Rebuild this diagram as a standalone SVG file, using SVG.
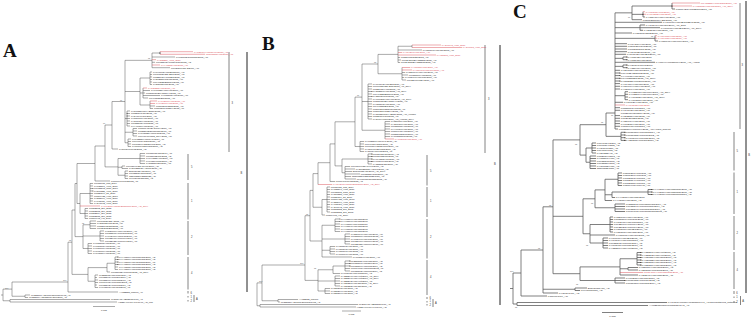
<svg xmlns="http://www.w3.org/2000/svg" width="752" height="318" viewBox="0 0 752 318">
<style>
.br{fill:none;stroke:#444;stroke-width:0.45}
.bc{fill:none;stroke:#555;stroke-width:0.75}
.rb{fill:none;stroke:#d9454f;stroke-width:0.45}
.t{font-family:"Liberation Sans",Arial,sans-serif;font-size:2.35px;fill:#1a1a1a}
.c{font-family:"Liberation Sans",Arial,sans-serif;font-size:2.5px;fill:#1a1a1a}
.r{fill:#d9454f}
.n{font-family:"Liberation Sans",Arial,sans-serif;font-size:2px;fill:#555}
.k{font-family:"Liberation Sans",Arial,sans-serif;font-size:2.6px;fill:#333}
.bar{stroke:#666;stroke-width:0.8;fill:none}
.big{stroke:#222;stroke-width:1;fill:none}
.pl{font-family:"Liberation Serif","Times New Roman",serif;font-weight:bold;font-size:19px;fill:#111}
.dt{fill:#111}
</style>
<rect width="752" height="318" fill="#fff"/>

<g id="panelA">
<text class="pl" x="3" y="57">A</text>
<g id="A-connectors">
<path class="br" d="M1 295H3M3 289.1V300.75M3 289.1H12M3 300.75H10M12 282V296.25M12 282H68M12 296.25H25M25 295V297.5M25 295H30M25 297.5H28M10 299.5V302M10 299.5H110M10 302H117M68 242.2V292M68 292H118M68 242.2H72M72 210V274.4M72 274.4H88M72 210H75M88 267.6V281.25M88 267.6H107M88 281.25H95M107 263.25V272M107 263.25H115M107 272H110M115 257V269.5M115 257H118M115 259.5H118M115 262H118M115 264.5H118M115 267H118M115 269.5H118M95 275V287.5M95 275H98M95 277.5H97M95 280H98M95 282.5H98M95 285H97M95 287.5H98M75 183.5V236.6M75 236.6H83M75 183.5H77M83 224.75V248.5M83 224.75H90M83 236H100M83 248.5H88M90 221V228.5M90 221H96M90 223.5H96M90 226H96M90 228.5H96M100 231V241M100 231H104M100 233.5H104M100 236H104M100 238.5H104M100 241H104M88 243.5V253.5M88 243.5H92M88 246H92M88 248.5H92M88 251H92M88 253.5H92M77 163.5V203.5M77 203.5H80M77 163.5H95M80 193.5V213.5M80 193.5H90M80 213.5H85M90 183.5V203.5M90 183.5H93M90 186H93M90 188.5H93M90 191H93M90 193.5H93M90 196H93M90 198.5H93M90 201H93M90 203.5H93M85 208.5V218.5M85 208.5H88M85 211H88M85 213.5H88M85 216H88M85 218.5H88M95 146V181M95 181H110M95 146H105M105 125V166.9M105 166.9H118M105 125H112M118 158.5V175.25M118 158.5H140M118 167.25H122M118 175.25H125M140 153.5V163.5M140 153.5H145M140 156H145M140 158.5H145M140 161H145M140 163.5H145M122 166V168.5M122 166H125M122 168.5H128M125 171V178.5M125 171H128M125 173.5H128M125 176H128M125 178.5H128M112 101.5V149M112 149H118M112 101.5H125M125 60.35V142.75M125 60.35H152M125 91.5H140M125 118.5H127M125 132.25H133M125 142.75H128M152 53V67.7M152 53H160M152 57H175M152 62.3H155M152 67.7H170M160 51.7V54.3M140 78V105M140 78H150M140 93H143M140 105H150M150 72V84.5M150 72H152M150 74.5H152M150 77H152M150 79.5H152M150 82H152M150 84.5H152M143 88V98M143 90.5H150M143 93H145M143 95.5H160M143 98H148M150 101V108.5M150 106H155M150 108.5H153M127 111V126M127 111H130M127 113.5H130M127 116H130M127 118.5H130M127 121H130M127 123.5H130M127 126H130M133 128.5V136M133 128.5H137M133 131H137M133 133.5H137M133 136H137M128 139V146.5M128 139H131M128 141.5H131M128 144H131M128 146.5H131"/>
<path class="rb" d="M160 51.7H193M160 54.3H205M152 59.7H156M152 65H160M143 88H147M150 101H157M150 103.5H155M80 206H100"/>
<g class="dt"><circle cx="118" cy="257" r="0.5"/><circle cx="118" cy="259.5" r="0.5"/><circle cx="118" cy="262" r="0.5"/><circle cx="118" cy="264.5" r="0.5"/><circle cx="127" cy="113.5" r="0.45"/><circle cx="127" cy="116" r="0.45"/><circle cx="160" cy="53" r="0.5"/><circle cx="93" cy="188.5" r="0.4"/><circle cx="93" cy="191" r="0.4"/></g>
</g>
<g id="A-bars">
<path class="bar" d="M229 52V152M188 154V180M188 183V219.5M188 221V255M188 257V289.5M188 291V293.5M188 296V297.5M188 300V301.5M194 295V302"/>
<path class="big" d="M247 52V292"/>
<text class="k" x="231.5" y="104">3</text><text class="k" x="191" y="168">5</text><text class="k" x="191" y="202">1</text><text class="k" x="191" y="238">2</text><text class="k" x="191" y="274">4</text><text class="k" x="190.5" y="293.5">6</text><text class="k" x="190.5" y="297.8">1</text><text class="k" x="190.5" y="301.8">2</text><text class="k" x="196" y="299.8">A</text><text class="k" x="240.5" y="174">B</text>
</g>
<g id="A-support">
<text class="n" x="63" y="281">100</text><text class="n" x="69" y="241">98</text><text class="n" x="120" y="100.5">99</text><text class="n" x="148" y="59">98</text><text class="n" x="103" y="124">97</text><text class="n" x="82" y="223.5">98</text><text class="n" x="5" y="288.5">100</text>
</g>
<g id="A-tips">
<text class="t r" x="194" y="52.5">KY785484/Human/Ven/2016_Am</text>
<text class="t r" x="206" y="55.1">MF801378/Hum/2016_Am</text>
<text class="t" x="176" y="57.8">KX087102/Colombia/2015_Am</text>
<text class="t r" x="157" y="60.5">KY328289_Hum_2016</text>
<text class="t" x="156" y="63.1">KU955593/Human/Cam/2015_Asi</text>
<text class="t r" x="161" y="65.8">KX447512/Hum/2016_Am</text>
<text class="t" x="171" y="68.5">KU926309/Rio-2/2016_Am</text>
<text class="t" x="153" y="72.8">KX197192/Hum/Bra/2016_Am</text>
<text class="t" x="153" y="75.3">KU707826/SSABR1/2015_Am</text>
<text class="t" x="153" y="77.8">KU321639/Hum/Bra/2015_Am</text>
<text class="t" x="153" y="80.3">KX262887/103451/2015_Am</text>
<text class="t" x="153" y="82.8">KU940228/Bahia07/2015_Am</text>
<text class="t" x="153" y="85.3">KX280026/Par/2015_Am</text>
<text class="t r" x="148" y="88.8">KY120352/Hum/2016_Am</text>
<text class="t" x="151" y="91.3">KX766028/Hum/Hon/2016_Am</text>
<text class="t" x="146" y="93.8">KU365780/BeH815744/2015_Am</text>
<text class="t" x="161" y="96.3">KX051563/Hum/2016_Am</text>
<text class="t" x="149" y="98.8">KU497555/Bra/2015_Am</text>
<text class="t r" x="158" y="101.8">KY693676/Hum/2016_Am</text>
<text class="t r" x="156" y="104.3">KY693677/Hum/2016_Am</text>
<text class="t" x="156" y="106.8">KU501217/8375/2015_Am</text>
<text class="t" x="154" y="109.3">KU501216/103344/2015_Am</text>
<text class="t" x="131" y="111.8">KX377336/PRVABC59/2015_Am</text>
<text class="t" x="131" y="114.3">KU820897/Col/2015_Am</text>
<text class="t" x="131" y="116.8">KX247646/Col/2016_Am</text>
<text class="t" x="131" y="119.3">KX856011/Hum/2016_Am</text>
<text class="t" x="131" y="121.8">KY317936/Hum/2016_Am</text>
<text class="t" x="131" y="124.3">KU758868/Hum/2015_Am</text>
<text class="t" x="131" y="126.8">KX446950/Hum/2016_Am</text>
<text class="t" x="138" y="129.3">KU870645/FB-GWUH/2016_Am</text>
<text class="t" x="138" y="131.8">KU853012/Dominican/2016_Am</text>
<text class="t" x="138" y="134.3">KX198135/Hum/Pan/2015_Am</text>
<text class="t" x="138" y="136.8">KU647676/MRS_OPY/2015_Am</text>
<text class="t" x="132" y="139.8">KX673530/Hum/PHL/2016_Asi</text>
<text class="t" x="132" y="142.3">KU740184/GZ01/2016_Asi</text>
<text class="t" x="132" y="144.8">KU761564/GDZ16001/2016_Asi</text>
<text class="t" x="132" y="147.3">KX117076/Zhejiang/2016_Asi</text>
<text class="t" x="119" y="149.8">KX369547/PF13/2013_Asi</text>
<text class="t" x="146" y="154.3">KU681081/Tha/2014_Asi</text>
<text class="t" x="146" y="156.8">KU681082/Phi/2012_Asi</text>
<text class="t" x="146" y="159.3">KX694533/Hon/2016_Am</text>
<text class="t" x="146" y="161.8">KX601166/Tha/2016_Asi</text>
<text class="t" x="146" y="164.3">KY553111/Sin/2016_Asi</text>
<text class="t" x="126" y="166.8">KU963796/SZ-WIV01/2016_Asi</text>
<text class="t" x="129" y="169.3">KX266255/ZK-YN001/2016_Asi</text>
<text class="t" x="129" y="171.8">EU545988/Yap/2007_Asi</text>
<text class="t" x="129" y="174.3">KU955589/Cam/2010_Asi</text>
<text class="t" x="129" y="176.8">JN860885/FSS13025_Asi</text>
<text class="t" x="129" y="179.3">KF993678/Canada_Asi</text>
<text class="t" x="111" y="181.8">KJ776791/PF13/2013_Asi</text>
<text class="t" x="94" y="184.3">KU681081_Tha_2014</text>
<text class="t" x="94" y="186.8">KX185891_Hum_2016</text>
<text class="t" x="94" y="189.3">KU955595_Cam_2010</text>
<text class="t" x="94" y="191.8">KX377335_Hum_2016</text>
<text class="t" x="94" y="194.3">KU820899_ZJ_2016</text>
<text class="t" x="94" y="196.8">KU866423_Hum_2016</text>
<text class="t" x="94" y="199.3">KX253996_Hum_2016</text>
<text class="t" x="94" y="201.8">KY075937_Hum_2016</text>
<text class="t" x="94" y="204.3">KY241742_Hum_2016</text>
<text class="t r" x="101" y="206.8">KY014295/Human/Singapore/2016_Asi_ZIKV</text>
<text class="t" x="89" y="209.3">KU312312_Sur_2015</text>
<text class="t" x="89" y="211.8">KU312313_Sur_2015</text>
<text class="t" x="89" y="214.3">KU312314_Sur_2015</text>
<text class="t" x="89" y="216.8">KU312315_Sur_2015</text>
<text class="t" x="89" y="219.3">KU509998_Hai_2014</text>
<text class="t" x="97" y="221.8">KU707826/SSA/2015_Am</text>
<text class="t" x="97" y="224.3">KX280026/Par/2015_Am</text>
<text class="t" x="97" y="226.8">KU527068/Nat/2015_Am</text>
<text class="t" x="97" y="229.3">KU729218/Bra/2015_Am</text>
<text class="t" x="105" y="231.8">KX520666/Hum/Hon/2016_Am</text>
<text class="t" x="105" y="234.3">KU758877/Hum/Gua/2015_Am</text>
<text class="t" x="105" y="236.8">KX702400/Hum/Pan/2016_Am</text>
<text class="t" x="105" y="239.3">KU922960/Hum/Mex/2016_Am</text>
<text class="t" x="105" y="241.8">KU922923/Hum/Mex/2016_Am</text>
<text class="t" x="93" y="244.3">KX051563/Hum/2016_Am</text>
<text class="t" x="93" y="246.8">KX056898/Hum/2016_Am</text>
<text class="t" x="93" y="249.3">KX087101/Hum/2015_Am</text>
<text class="t" x="93" y="251.8">KX101066/Hum/2015_Am</text>
<text class="t" x="93" y="254.3">KX198134/Hum/2016_Am</text>
<text class="t" x="119" y="257.8">KX447509/Hum/Thailand/2016_Asi</text>
<text class="t" x="119" y="260.3">KX447510/Hum/Thailand/2016_Asi</text>
<text class="t" x="119" y="262.8">KX447511/Hum/Thailand/2016_Asi</text>
<text class="t" x="119" y="265.3">KX447517/Hum/Thailand/2016_Asi</text>
<text class="t" x="119" y="267.8">KX447518/Hum/Thailand/2016_Asi</text>
<text class="t" x="119" y="270.3">KX447519/Hum/Thailand/2016_Asi</text>
<text class="t" x="111" y="272.8">KU681082/Hum/Phi/2012_Asi_ZIKV</text>
<text class="t" x="99" y="275.8">KF258813/Hum/Indo/2014_Asi</text>
<text class="t" x="99" y="278.3">KU955591/Hum/Sen/2014_Asi</text>
<text class="t" x="99" y="280.8">KU955590/Hum/Tha/2014_Asi</text>
<text class="t" x="99" y="283.3">KU179098/Hum/Cam/2013_Asi</text>
<text class="t" x="99" y="285.8">KU955592/Hum/Mal/2014_Asi</text>
<text class="t" x="99" y="288.3">KX601168/Hum/Tha/2016_Asi</text>
<text class="t" x="119" y="292.8">AY632535_MR766_Afr</text>
<text class="t" x="31" y="295.8">KF383116/ArD7117/Senegal/1968_Afr</text>
<text class="t" x="29" y="298.3">KF383119/ArD158084/Sen/2001_Afr</text>
<text class="t" x="111" y="300.3">KF268948/ArB13565/1976_Afr</text>
<text class="t" x="118" y="302.8">HQ234499/P6-740/1966_Asi_Mal</text>
</g>
<path class="br" d="M93 306.5H115"/>
<text class="t" x="104" y="310.5" text-anchor="middle">0.005</text>
</g>

<g id="panelB">
<text class="pl" x="262" y="50">B</text>
<g id="B-connectors">
<path class="br" d="M257 282.9V305.75M257 282.9H262M257 305.75H260M262 265V300.75M262 265H305M262 300.75H278M278 299.5V302M278 299.5H298M278 302H280M260 304.5V307M260 304.5H358M260 307H356M305 215.7V280.4M305 215.7H310M305 280.4H318M318 269.75V291M318 269.75H333M318 281H335M318 291H325M333 266V273.5M333 266H345M333 273.5H340M345 261V271M345 261H350M345 263.5H350M345 266H350M345 268.5H350M345 271H350M335 276V286M335 276H340M335 278.5H340M335 281H340M335 283.5H340M335 286H340M325 288.5V293.5M325 288.5H330M325 291H330M325 293.5H330M310 190.4V241M310 241H322M310 190.4H313M322 225.25V257M322 225.25H335M322 239H345M322 250.25H330M322 257H352M335 219V231.5M335 219H340M335 221.5H340M335 224H340M335 226.5H340M335 229H340M335 231.5H340M345 234V244M345 234H350M345 236.5H350M345 239H350M345 241.5H350M345 244H350M330 246.5V254M330 246.5H335M330 249H335M330 251.5H335M330 254H335M313 173.6V207.25M313 207.25H322M313 173.6H318M322 199.5V215M322 199.5H327M322 215H325M327 187V212M327 187H330M327 189.5H330M327 192H330M327 194.5H330M327 197H330M327 199.5H330M327 202H330M327 204.5H330M327 207H330M327 209.5H330M327 212H330M318 162.7V184.5M318 162.7H330M330 143.9V181.5M330 181.5H335M330 143.9H335M335 121.8V165.9M335 165.9H342M335 121.8H355M342 159V172.75M342 159H368M342 172.75H345M368 154V164M368 154H372M368 156.5H372M368 159H372M368 161.5H372M368 164H372M345 166.5V179M345 166.5H350M345 169H355M345 171.5H352M345 174H360M345 176.5H351M345 179H356M355 97.1V146.5M355 146.5H360M355 97.1H362M360 141.5V151.5M360 141.5H364M360 144H364M360 146.5H364M360 149H364M360 151.5H364M362 64V130.25M362 64H378M362 101.5H368M362 130.25H385M378 54.4V73.75M378 54.4H398M378 73.75H402M398 46.25V62.5M398 46.25H412M398 50H422M398 57.5H400M398 60H401M398 62.5H400M412 45V47.5M402 67.5V80M402 72.5H405M402 75H408M402 77.5H404M402 80H406M368 84V119M368 84H372M368 86.5H372M368 89H372M368 91.5H372M368 94H372M368 96.5H372M368 99H372M368 101.5H372M368 104H372M368 106.5H372M368 109H372M368 111.5H372M368 114H372M368 116.5H372M368 119H372M385 121.5V139M385 121.5H390M385 124H390M385 126.5H390M385 129H390M385 131.5H390M385 134H390M385 136.5H390"/>
<path class="rb" d="M412 45H441M412 47.5H462M398 52.5H402M398 55H436M402 67.5H410M402 70H412M385 139H394M318 184.5H332"/>
<g class="dt"><circle cx="372" cy="154" r="0.5"/><circle cx="372" cy="156.5" r="0.5"/><circle cx="372" cy="159" r="0.5"/><circle cx="372" cy="161.5" r="0.5"/><circle cx="350" cy="261" r="0.5"/><circle cx="350" cy="263.5" r="0.5"/><circle cx="350" cy="266" r="0.5"/><circle cx="372" cy="91.5" r="0.45"/><circle cx="372" cy="96.5" r="0.45"/><circle cx="340" cy="219" r="0.45"/><circle cx="340" cy="221.5" r="0.45"/></g>
</g>
<g id="B-bars">
<path class="bar" d="M485 45V153M427 155V185.5M427 187V217M427 219V258.5M427 260V295M427 297V299M427 301V302.5M427 304V305.5M433 299V307"/>
<path class="big" d="M500 45V305"/>
<text class="k" x="488" y="100">3</text><text class="k" x="430" y="172">5</text><text class="k" x="430" y="202">1</text><text class="k" x="430" y="238">2</text><text class="k" x="430" y="278">4</text><text class="k" x="429.5" y="299">6</text><text class="k" x="429.5" y="302.3">1</text><text class="k" x="429.5" y="305.7">2</text><text class="k" x="435" y="304">A</text><text class="k" x="494" y="165">B</text>
</g>
<g id="B-support">
<text class="n" x="300" y="264">100</text><text class="n" x="306" y="214.5">98</text><text class="n" x="357" y="96">99</text><text class="n" x="374" y="63">98</text><text class="n" x="314" y="268.5">98</text><text class="n" x="259" y="281.5">100</text>
</g>
<g id="B-tips">
<text class="t r" x="441.8" y="45.8">KY241742_Hum_2016</text>
<text class="t r" x="462.8" y="48.3">KY241712_Hum_2016</text>
<text class="t" x="422.8" y="50.8">KX087101/Hum/Col/2015_Am</text>
<text class="t r" x="402.8" y="53.3">KY014301/Hum/2016_Am</text>
<text class="t r" x="436.8" y="55.8">KY927808_Hum_2016</text>
<text class="t" x="400.8" y="58.3">KU527068/Natal/2015_Am</text>
<text class="t" x="401.8" y="60.8">KU729217/BeH823339/2015_Am</text>
<text class="t" x="400.8" y="63.3">KU729218/BeH828305/2015_Am</text>
<text class="t r" x="410.8" y="68.3">KY989511/Hum/2016_Am</text>
<text class="t r" x="412.8" y="70.8">KY989971/Hum/Per/2016_Am</text>
<text class="t" x="405.8" y="73.3">KX520666/Hum/Hon/2016_Am</text>
<text class="t" x="408.8" y="75.8">KU758877/Hum/2015_Am</text>
<text class="t" x="404.8" y="78.3">KX702400/Hum/Pan/2016_Am</text>
<text class="t" x="406.8" y="80.8">KU922960/MEX/2016_Am</text>
<text class="t" x="372.8" y="84.8">KX197192/Hum/Bra/2016_Am</text>
<text class="t" x="372.8" y="87.3">KU707826/SSABR1/2015_Am_ZIKV</text>
<text class="t" x="372.8" y="89.8">KU321639/Hum/2015_Am</text>
<text class="t" x="372.8" y="92.3">KX262887/Hum/2015_Am_ZIKV</text>
<text class="t" x="372.8" y="94.8">KU940228/Bahia07/2015_Am</text>
<text class="t" x="372.8" y="97.3">KX280026/Par/2015_Am</text>
<text class="t" x="372.8" y="99.8">KX766028/Hum/Hon/2016_Am_ZIKV</text>
<text class="t" x="372.8" y="102.3">KU365780/BeH815744/2015_Am</text>
<text class="t" x="372.8" y="104.8">KX051563/Hum/2016_Am</text>
<text class="t" x="372.8" y="107.3">KU497555/Bra/2015_Am</text>
<text class="t" x="372.8" y="109.8">KU501217/8375/Gua/2015_Am</text>
<text class="t" x="372.8" y="112.3">KU501216/103344/2015_Am</text>
<text class="t" x="372.8" y="114.8">KX377336/PRVABC59/2015_Am_Human</text>
<text class="t" x="372.8" y="117.3">KU820897/Col/2015_Am</text>
<text class="t" x="372.8" y="119.8">KX247646/Col/2016_Am_Human_ZIKV</text>
<text class="t" x="390.8" y="122.3">KX856011/Hum/2016_Am</text>
<text class="t" x="390.8" y="124.8">KY317936/Hum/2016_Am</text>
<text class="t" x="390.8" y="127.3">KU758868/Hum/2015_Am</text>
<text class="t" x="390.8" y="129.8">KX446950/Hum/2016_Am</text>
<text class="t" x="390.8" y="132.3">KU870645/Hum/2016_Am</text>
<text class="t" x="390.8" y="134.8">KU853012/Dom/2016_Am</text>
<text class="t" x="390.8" y="137.3">KX198135/Pan/2015_Am</text>
<text class="t r" x="394.8" y="139.8">KY693678/Hum/2016_Am</text>
<text class="t" x="364.8" y="142.3">KX673530/Hum/PHL/2016_Asi</text>
<text class="t" x="364.8" y="144.8">KU740184/GZ01/2016_Asi</text>
<text class="t" x="364.8" y="147.3">KU761564/GDZ16001/2016_Asi</text>
<text class="t" x="364.8" y="149.8">KX117076/Zhejiang/2016_Asi</text>
<text class="t" x="364.8" y="152.3">KX369547/PF13/2013_Asi</text>
<text class="t" x="372.8" y="154.8">KU681081/Tha/2014_Asi</text>
<text class="t" x="372.8" y="157.3">KU681082/Phi/2012_Asi</text>
<text class="t" x="372.8" y="159.8">KX694533/Hon/2016_Am</text>
<text class="t" x="372.8" y="162.3">KX601166/Tha/2016_Asi</text>
<text class="t" x="372.8" y="164.8">KY553111/Sin/2016_Asi</text>
<text class="t" x="350.8" y="167.3">KU963796/SZ-WIV01/2016_Asi</text>
<text class="t" x="355.8" y="169.8">KX266255/ZK-YN001/2016_Asi</text>
<text class="t" x="352.8" y="172.3">EU545988/Yap/2007_Asi_ZIKV</text>
<text class="t" x="360.8" y="174.8">KU955589/Cam/2010_Asi</text>
<text class="t" x="351.8" y="177.3">JN860885/FSS13025/Cam_Asi</text>
<text class="t" x="356.8" y="179.8">KF993678/Canada/2013_Asi</text>
<text class="t" x="335.8" y="182.3">KJ776791/PF13/2013_Asi</text>
<text class="t r" x="332.8" y="185.3">KY014295/Human/Singapore/2016_Asi_ZIKV</text>
<text class="t" x="330.8" y="187.8">KU681081_Tha_2014</text>
<text class="t" x="330.8" y="190.3">KX185891_Hum_2016</text>
<text class="t" x="330.8" y="192.8">KU955595_Cam_2010</text>
<text class="t" x="330.8" y="195.3">KX377335_Hum_2016</text>
<text class="t" x="330.8" y="197.8">KU820899_ZJ_2016</text>
<text class="t" x="330.8" y="200.3">KU866423_Hum_2016</text>
<text class="t" x="330.8" y="202.8">KX253996_Hum_2016</text>
<text class="t" x="330.8" y="205.3">KY075937_Hum_2016</text>
<text class="t" x="330.8" y="207.8">KY241742_Hum_2016</text>
<text class="t" x="330.8" y="210.3">KU312312_Sur_2015</text>
<text class="t" x="330.8" y="212.8">KU312313_Sur_2015</text>
<text class="t" x="325.8" y="215.8">KU509998_Hai_2014</text>
<text class="t" x="340.8" y="219.8">KX447509/Hum/Tha/2016</text>
<text class="t" x="340.8" y="222.3">KX447510/Hum/Tha/2016</text>
<text class="t" x="340.8" y="224.8">KX447511/Hum/Tha/2016</text>
<text class="t" x="340.8" y="227.3">KX447517/Hum/Tha/2016</text>
<text class="t" x="340.8" y="229.8">KX447518/Hum/Tha/2016</text>
<text class="t" x="340.8" y="232.3">KX447519/Hum/Tha/2016</text>
<text class="t" x="350.8" y="234.8">KX520666/Hum/Hon/2016_Am</text>
<text class="t" x="350.8" y="237.3">KU758877/Hum/Gua/2015_Am</text>
<text class="t" x="350.8" y="239.8">KX702400/Hum/Pan/2016_Am</text>
<text class="t" x="350.8" y="242.3">KU922960/Hum/Mex/2016_Am</text>
<text class="t" x="350.8" y="244.8">KU922923/Hum/Mex/2016_Am</text>
<text class="t" x="335.8" y="247.3">KX051563/Hum/2016_Am</text>
<text class="t" x="335.8" y="249.8">KX056898/Hum/2016_Am</text>
<text class="t" x="335.8" y="252.3">KX087101/Hum/2015_Am</text>
<text class="t" x="335.8" y="254.8">KX101066/Hum/2015_Am</text>
<text class="t" x="352.8" y="257.8">KX198134/Hum/2016_Am</text>
<text class="t" x="350.8" y="261.8">KF258813/Hum/Indo/2014_Asi</text>
<text class="t" x="350.8" y="264.3">KU955591/Hum/Sen/2014_Asi</text>
<text class="t" x="350.8" y="266.8">KU955590/Hum/Tha/2014_Asi</text>
<text class="t" x="350.8" y="269.3">KU179098/Hum/Cam/2013_Asi</text>
<text class="t" x="350.8" y="271.8">KU955592/Hum/Mal/2014_Asi</text>
<text class="t" x="340.8" y="274.3">KX601168/Hum/Tha/2016_Asi</text>
<text class="t" x="340.8" y="276.8">KY328290/Hum/Viet/2016_Asi_ZIKV</text>
<text class="t" x="340.8" y="279.3">KY328291/Hum/Viet/2016_Asi_ZIKV</text>
<text class="t" x="340.8" y="281.8">KY328292/Hum/Viet/2016_Asi</text>
<text class="t" x="340.8" y="284.3">KY126351/Hum/Sin/2016_Asi_ZIKV</text>
<text class="t" x="340.8" y="286.8">KY126352/Hum/Sin/2016_Asi</text>
<text class="t" x="330.8" y="289.3">KX827268/Hum/2016_Asi</text>
<text class="t" x="330.8" y="291.8">KX827269/Hum/2016_Asi</text>
<text class="t" x="330.8" y="294.3">KX827309/Hum/2016_Asi</text>
<text class="t" x="298.8" y="300.3">AY632535_MR766</text>
<text class="t" x="280.8" y="302.8">KF383116/ArD7117/Senegal/1968_Afr</text>
<text class="t" x="358.8" y="305.3">KF268948/ArB13565/1976_Afr</text>
<text class="t" x="356.8" y="307.8">HQ234499/P6-740/1966_Asi</text>
</g>
<path class="br" d="M342 311H361"/>
<text class="t" x="351.5" y="314.8" text-anchor="middle">0.005</text>
</g>

<g id="panelC">
<text class="pl" x="513" y="18">C</text>
<g id="C-connectors">
<path class="bc" d="M510 288.5H513M513 273V304M513 273H521M513 304H517M517 302.5V305.5M517 302.5H667M517 305.5H648M521 250V296M521 296H547M521 250H543M543 206.8V293M543 206.8H553M543 289.25H575M543 293H558M575 288V290.5M575 288H587M575 290.5H580M553 139.9V273.7M553 139.9H580M553 216.3H583M553 273.7H580M580 266.9V280.5M580 266.9H620M580 280.5H615M620 258.75V275M620 258.75H637M620 268.75H628M620 275H638M637 252.5V265M637 252.5H641M637 255H641M637 257.5H641M637 260H641M637 262.5H641M637 265H641M628 267.5V270M628 267.5H638M628 270H638M615 278V283M615 278H625M615 280.5H625M615 283H625M583 198.8V233.75M583 198.8H595M583 233.75H590M595 189.9V207.75M595 189.9H605M595 207.75H615M605 179.25V200.5M605 179.25H618M605 194.75H612M605 200.5H612M618 173V185.5M618 173H622M618 175.5H622M618 178H622M618 180.5H622M618 183H622M618 185.5H622M612 192V197.5M612 192H648M612 197.5H615M648 189.5V194.5M648 189.5H652M648 192H652M648 194.5H652M615 204V211.5M615 204H625M615 206.5H625M615 209H625M615 211.5H625M590 224.5V243M590 224.5H610M590 235H615M590 243H603M610 217V232M610 217H613M610 219.5H613M610 222H613M610 224.5H613M610 227H613M610 229.5H613M610 232H613M603 238V248M603 238H608M603 240.5H608M603 243H608M603 245.5H608M603 248H608M580 124.7V155.1M580 124.7H606M580 155.1H586M586 148V162.25M586 148H592M586 162.25H590M592 143V153M592 143H596M592 145.5H596M592 148H596M592 150.5H596M592 153H596M590 156V168.5M590 156H596M590 158.5H596M590 161H596M590 163.5H596M590 166H596M590 168.5H596M606 113V136.35M606 113H615M606 136.35H621M621 132.3V140.4M621 132.3H625M621 135H625M621 137.7H625M621 140.4H625M615 12.85V129M615 12.85H632M615 22.3H662M615 27.65H640M615 33H632M615 38.35H655M615 43.7H627M615 46.3H627M615 49H627M615 51.7H627M615 54.3H626M615 58.35H623M615 62.3H655M615 66.35H623M615 70.3H620M615 73H620M615 75.6H620M615 78.3H620M615 81H620M615 83.6H620M615 86.3H620M615 89H620M615 95.7H625M615 102.3H623M615 107.7H620M615 110.3H620M615 115.6H620M615 118.3H620M615 121H620M615 123.6H620M615 126.3H620M615 129H618M623 57V59.7M623 57H627M623 59.7H627M623 65V67.7M623 65H627M623 67.7H627M625 91.7V99.7M625 91.7H628M625 94.3H628M625 97H628M625 99.7H628M655 35.7V41M655 41H658M640 25V30.3M640 25H645M640 27.7H660M640 30.3H643M632 6V19.7M632 6H672M632 14.35H643M632 19.7H642M643 11.7V17M643 17H645M672 3V9M672 9H675"/>
<path class="rb" d="M672 3H700M672 6H692M643 11.7H645M643 14.3H646M655 35.7H657M655 38.3H657M615 105H625M620 272.5H643"/>
<g class="dt"><circle cx="641" cy="252.5" r="0.55"/><circle cx="641" cy="255" r="0.55"/><circle cx="641" cy="257.5" r="0.55"/><circle cx="641" cy="260" r="0.55"/><circle cx="641" cy="262.5" r="0.55"/><circle cx="641" cy="265" r="0.55"/><circle cx="652" cy="189.5" r="0.55"/><circle cx="652" cy="192" r="0.55"/><circle cx="652" cy="194.5" r="0.55"/><circle cx="625" cy="132.3" r="0.55"/><circle cx="625" cy="135" r="0.55"/><circle cx="625" cy="137.7" r="0.55"/><circle cx="625" cy="140.4" r="0.55"/><circle cx="627" cy="57" r="0.55"/><circle cx="627" cy="59.7" r="0.55"/><circle cx="627" cy="65" r="0.55"/><circle cx="627" cy="67.7" r="0.55"/><circle cx="620" cy="73" r="0.5"/><circle cx="620" cy="75.6" r="0.5"/><circle cx="620" cy="78.3" r="0.5"/><circle cx="620" cy="81" r="0.5"/><circle cx="672" cy="6" r="0.5"/><circle cx="643" cy="14.35" r="0.5"/><circle cx="625" cy="280.5" r="0.5"/></g>
</g>
<g id="C-bars">
<path class="bar" d="M740 3V129M734 132V170.5M734 172.5V214M734 216V250M734 252V289M734 291V294M734 296.5V298M734 301V302.5M740.5 296V305"/>
<path class="big" d="M746 1V293"/>
<text class="k" x="741.6" y="66">3</text><text class="k" x="736.5" y="152">5</text><text class="k" x="736.5" y="193">1</text><text class="k" x="736.5" y="234">2</text><text class="k" x="736.5" y="271">4</text><text class="k" x="736.3" y="293.5">6</text><text class="k" x="736.3" y="298.3">1</text><text class="k" x="736.3" y="302.8">2</text><text class="k" x="742.3" y="301.5">A</text><text class="k" x="748.2" y="156">B</text>
</g>
<g id="C-support">
<text class="n" x="510" y="272">100</text><text class="n" x="538" y="249">98</text><text class="n" x="549" y="206">98</text><text class="n" x="575" y="145">98</text><text class="n" x="601" y="122.5">98</text><text class="n" x="591" y="204">98</text><text class="n" x="586" y="246">98</text><text class="n" x="576" y="285">98</text><text class="n" x="611" y="116">76</text><text class="n" x="651" y="37">98</text><text class="n" x="628" y="18">99</text><text class="n" x="515" y="307.8">98</text>
</g>
<g id="C-tips">
<text class="c r" x="700.8" y="3.9">MF438286/Hum/Cuba/2017_Am</text>
<text class="c r" x="692.8" y="6.9">KY927808/Hum/PR/2016_Am_ZIKV</text>
<text class="c" x="675.8" y="9.9">KU866423/Hum/Brazil/2016_Am</text>
<text class="c r" x="645.8" y="12.6">KY989511/Hum/2016_Am</text>
<text class="c r" x="646.8" y="15.2">KX197205/Hum/2016_Am</text>
<text class="c" x="645.8" y="17.9">KY785476/Hum/Hon/2016_Am</text>
<text class="c" x="642.8" y="20.6">KU501215/PRVABC/2015_Am</text>
<text class="c" x="662.8" y="23.2">KX101066/Hum/Bra/PE243/2015_Am</text>
<text class="c" x="645.8" y="25.9">KY348640/Hum/Sur/2016_Am_Zika</text>
<text class="c" x="660.8" y="28.6">KX101060/Hum/Bra/2016_Am_ZIKV</text>
<text class="c" x="643.8" y="31.2">KY272987/Hum/2016_Am</text>
<text class="c" x="632.8" y="33.9">KX056898/GZ02/2016_Am</text>
<text class="c r" x="657.8" y="36.6">KY014317/Hum/2016_Am</text>
<text class="c r" x="657.8" y="39.2">KY014316/Hum/2016_Am</text>
<text class="c" x="658.8" y="41.9">KX830961/Hum/Mex/2016_Am</text>
<text class="c" x="627.8" y="44.6">KX694534/Hon/2016_Am</text>
<text class="c" x="627.8" y="47.2">KU501216/Gua/2015_Am</text>
<text class="c" x="627.8" y="49.9">KU312312/Sur/2015_Am</text>
<text class="c" x="627.8" y="52.6">KX247632/Col/2016_Am</text>
<text class="c" x="626.8" y="55.2">KX548902/Hum/Bra/2016_Am</text>
<text class="c" x="627.8" y="57.9">KY075932/Hum/2016</text>
<text class="c" x="627.8" y="60.6">KY075933/Hum/2016</text>
<text class="c" x="655.8" y="63.2">KY631494/Mosq/Mex/2016_Am_Aedes</text>
<text class="c" x="627.8" y="65.9">KX369547/PF13/2013</text>
<text class="c" x="627.8" y="68.6">KY325467/Ven/2016_Am</text>
<text class="c" x="620.8" y="71.2">KX269878/Hum/Col/2016_Am</text>
<text class="c" x="620.8" y="73.9">KU940224/Bahia02/2015_Am</text>
<text class="c" x="620.8" y="76.5">KX446951/Hum/2016_Am</text>
<text class="c" x="620.8" y="79.2">KU497555/Bra/2015_Am_ZIKV</text>
<text class="c" x="620.8" y="81.9">KX811222/Hum/Dom/2016_Am</text>
<text class="c" x="620.8" y="84.5">KY014304/Hum/Nic/2016_Am</text>
<text class="c" x="620.8" y="87.2">KX879604/Hum/Hon/2016_Am</text>
<text class="c" x="620.8" y="89.9">KY120349/Hum/2016_Am</text>
<text class="c" x="628.8" y="92.6">KX922703/Hum/Mex/2016_Am_ZIKV</text>
<text class="c" x="628.8" y="95.2">KX922704/Hum/Mex/2016_Am</text>
<text class="c" x="628.8" y="97.9">KY606272/Hum/2016_Am_ZIKV</text>
<text class="c" x="628.8" y="100.6">KY606273/Hum/2016_Am</text>
<text class="c" x="623.8" y="103.2">KX766029/Hum/2016_Am</text>
<text class="c r" x="625.8" y="105.9">KY693678/Hum/2016</text>
<text class="c" x="620.8" y="108.6">KU853013/Hum/2016_Am</text>
<text class="c" x="620.8" y="111.2">KX197192/Hum/2016_Am</text>
<text class="c" x="620.8" y="113.9">KU321639/ZikaSPH/2015_Am</text>
<text class="c" x="620.8" y="116.5">KX262887/Hum/2015_Am</text>
<text class="c" x="620.8" y="119.2">KU729217/Bra/2015_Am</text>
<text class="c" x="620.8" y="121.9">KY559014/Hum/2016_Am</text>
<text class="c" x="620.8" y="124.5">KX673530/Hum/2016_Am</text>
<text class="c" x="620.8" y="127.2">KU870645/Hum/2016_Am</text>
<text class="c" x="618.8" y="129.9">KU758869/Hum/Mex/2015_Am/Aedes_aegypti</text>
<text class="c" x="625.8" y="133.2">KU681081/Hum/Tha/2014_Asi</text>
<text class="c" x="625.8" y="135.9">KU681082/Hum/Phi/2012_Asi</text>
<text class="c" x="625.8" y="138.6">KX601166/Hum/Tha/2016_Asi</text>
<text class="c" x="625.8" y="141.3">KY553111/Hum/Sin/2016_Asi</text>
<text class="c" x="596.8" y="143.9">KU740184/GZ01_Asi</text>
<text class="c" x="596.8" y="146.4">KU761564/GDZ_Asi</text>
<text class="c" x="596.8" y="148.9">KX117076/Zhe_Asi</text>
<text class="c" x="596.8" y="151.4">KU963796/SZ_Asi</text>
<text class="c" x="596.8" y="153.9">KX266255/YN_Asi</text>
<text class="c" x="596.8" y="156.9">KU820899/ZJ03_Asi</text>
<text class="c" x="596.8" y="159.4">KX185891/Hum_Asi</text>
<text class="c" x="596.8" y="161.9">KU955595/Cam_Asi</text>
<text class="c" x="596.8" y="164.4">KU955589/Cam_Asi</text>
<text class="c" x="596.8" y="166.9">KX377335/Hum_Asi</text>
<text class="c" x="596.8" y="169.4">JN860885/Cam_Asi</text>
<text class="c" x="622.8" y="173.9">KU501217/Hum/Gua_Am</text>
<text class="c" x="622.8" y="176.4">KU501216/Hum/Gua_Am</text>
<text class="c" x="622.8" y="178.9">KU312313/Hum/Sur_Am</text>
<text class="c" x="622.8" y="181.4">KU312314/Hum/Sur_Am</text>
<text class="c" x="622.8" y="183.9">KU312315/Hum/Sur_Am</text>
<text class="c" x="622.8" y="186.4">KU509998/Hum/Hai_Am</text>
<text class="c" x="652.8" y="190.4">KX447509/Hum/Thailand/2016_Asi</text>
<text class="c" x="652.8" y="192.9">KX447510/Hum/Thailand/2016_Asi</text>
<text class="c" x="652.8" y="195.4">KX447511/Hum/Thailand/2016_Asi</text>
<text class="c" x="615.8" y="198.4">KX447517/Hum/Tha/2016</text>
<text class="c" x="612.8" y="201.4">KX447518/Hum/2016_Asi</text>
<text class="c" x="625.8" y="204.9">KF258813/Hum/Indonesia/2014_Asi</text>
<text class="c" x="625.8" y="207.4">KU955591/Hum/Senegal/2014_Asi</text>
<text class="c" x="625.8" y="209.9">KU955590/Hum/Thailand/2014_Asi</text>
<text class="c" x="625.8" y="212.4">KU179098/Hum/Cambodia/2013_Asi</text>
<text class="c" x="613.8" y="217.9">KX520666/Hum/Hon/2016_Am</text>
<text class="c" x="613.8" y="220.4">KU758877/Hum/Gua/2015_Am</text>
<text class="c" x="613.8" y="222.9">KX702400/Hum/Pan/2016_Am</text>
<text class="c" x="613.8" y="225.4">KU922960/Hum/Mex/2016_Am</text>
<text class="c" x="613.8" y="227.9">KU922923/Hum/Mex/2016_Am</text>
<text class="c" x="613.8" y="230.4">KX051563/Hum/Bra/2016_Am</text>
<text class="c" x="613.8" y="232.9">KX056898/Hum/Chn/2016_Am</text>
<text class="c" x="615.8" y="235.9">KX087101/Hum/Col/2015_Am</text>
<text class="c" x="608.8" y="238.9">KX101066/Hum/Bra/2015_Am</text>
<text class="c" x="608.8" y="241.4">KX198134/Hum/Pan/2016_Am</text>
<text class="c" x="608.8" y="243.9">KU955592/Hum/Mal/2014_Asi</text>
<text class="c" x="608.8" y="246.4">KX601168/Hum/Tha/2016_Asi</text>
<text class="c" x="608.8" y="248.9">KY328290/Hum/Viet/2016_Asi</text>
<text class="c" x="641.8" y="253.4">KY328291/Hum/Viet/2016_Asi</text>
<text class="c" x="641.8" y="255.9">KY328292/Hum/Viet/2016_Asi</text>
<text class="c" x="641.8" y="258.4">KY126351/Hum/Sing/2016_Asi</text>
<text class="c" x="641.8" y="260.9">KY126352/Hum/Sing/2016_Asi</text>
<text class="c" x="641.8" y="263.4">KX827268/Hum/Sing/2016_Asi</text>
<text class="c" x="641.8" y="265.9">KX827269/Hum/Sing/2016_Asi</text>
<text class="c" x="638.8" y="268.4">KX827309/Hum/Sing/2016_Asi</text>
<text class="c" x="638.8" y="270.9">KY553111/Hum/Sing/2016_Asi</text>
<text class="c r" x="643.8" y="273.4">MF574569/Hum/Thailand/2016_Asi</text>
<text class="c" x="638.8" y="275.9">KY272991/Hum/Thai/2016_Asi</text>
<text class="c" x="625.8" y="278.9">KX673530/Hum/Phil/2016_Asi</text>
<text class="c" x="625.8" y="281.4">KU681082/Hum/Phil/2012_Asi</text>
<text class="c" x="625.8" y="283.9">KU681081/Hum/Thai/2014_Asi</text>
<text class="c" x="587.8" y="288.9">EU545988/Yap_Asi</text>
<text class="c" x="580.8" y="291.4">KF993678/Can_Asi</text>
<text class="c" x="558.8" y="293.9">KX369547/PF_Asi</text>
<text class="c" x="547.8" y="296.9">KJ776791/PF_Asi</text>
<text class="c" x="667.8" y="303.4">KX198134/Monkey/Uganda/1947_Afr/Cercopithecus_aethiops</text>
<text class="c" x="648.8" y="306.4">AY632535/MR766/Uganda/1947_Afr</text>
</g>
<path class="bc" d="M602 312.5H623"/>
<text class="c" x="612.5" y="316.8" text-anchor="middle">0.005</text>
</g>
</svg>
